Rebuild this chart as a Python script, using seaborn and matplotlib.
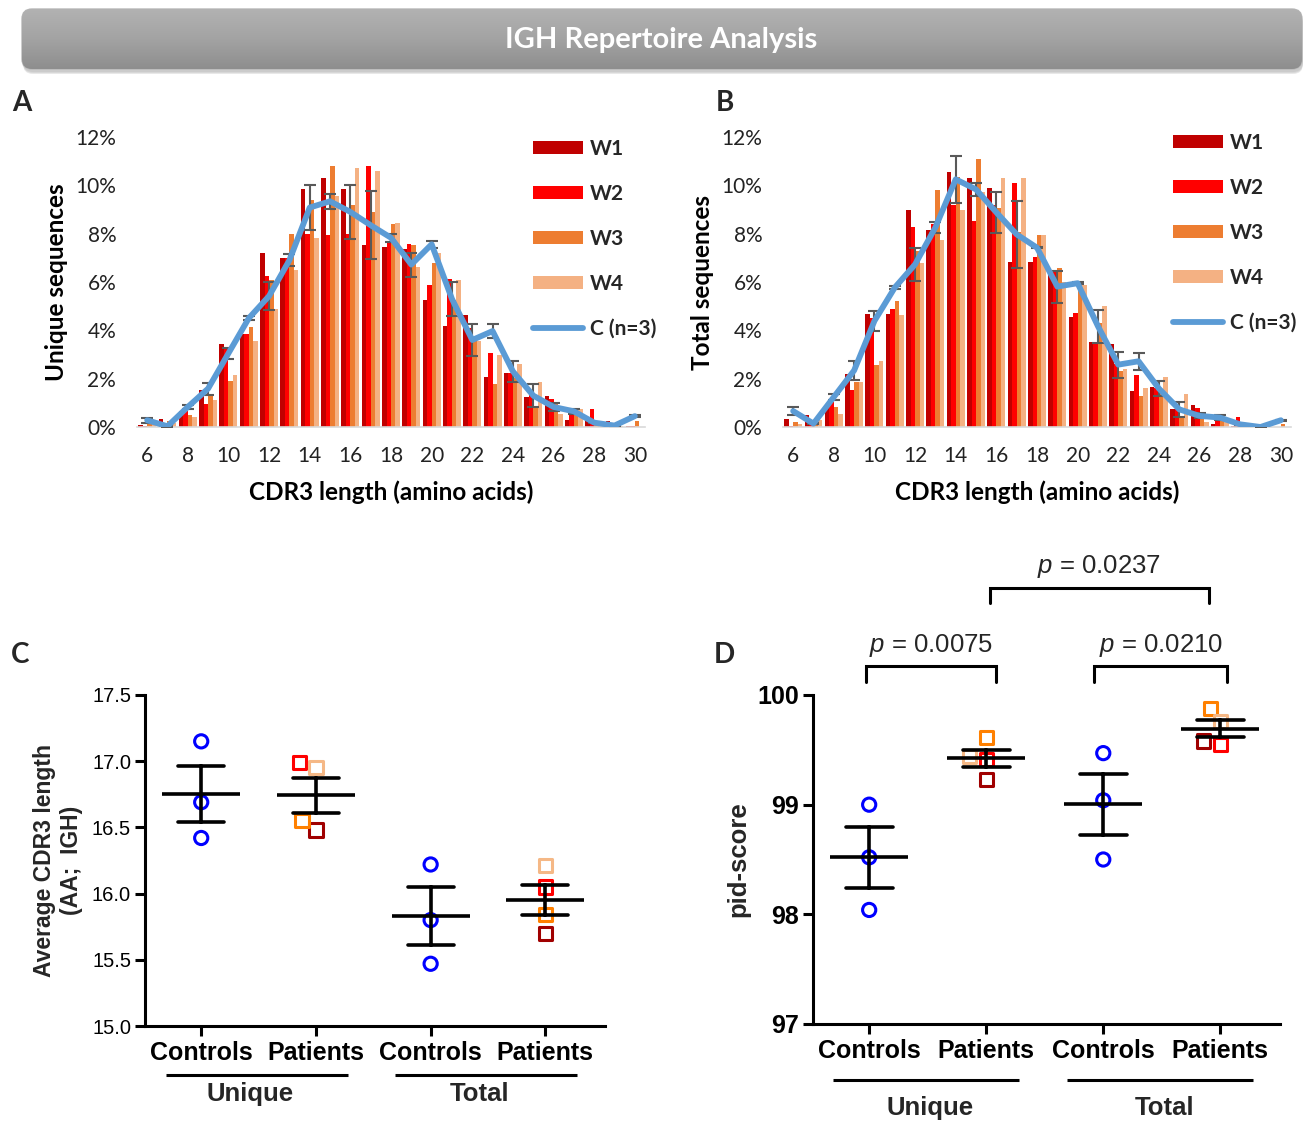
import numpy as np
import pandas as pd
import matplotlib
matplotlib.use("Agg")
import matplotlib.pyplot as plt
import matplotlib.transforms as mtransforms
from matplotlib.patches import Patch, FancyBboxPatch
from matplotlib.lines import Line2D
import seaborn as sns

# ---------------- data ----------------
lengths = list(range(6, 31))
weeks = ["W1", "W2", "W3", "W4"]

A_W1 = [0.10, 0.35, 0.65, 1.52, 3.42, 3.86, 7.20, 7.00, 9.83, 10.30, 9.86, 7.55, 7.45, 7.35, 5.26, 4.20, 4.63, 2.07, 2.22, 1.26, 1.28, 0.28, 0.43, 0.25, 0.03]
A_W2 = [0.05, 0.10, 0.65, 0.97, 3.30, 3.83, 6.23, 7.00, 7.97, 7.96, 8.00, 10.80, 7.65, 7.59, 5.86, 6.14, 4.10, 3.08, 2.22, 1.49, 1.14, 0.66, 0.76, 0.08, 0.05]
A_W3 = [0.25, 0.25, 0.48, 1.38, 1.90, 4.14, 6.07, 8.00, 9.38, 10.80, 9.20, 8.90, 8.40, 7.53, 6.77, 5.24, 3.70, 1.80, 2.04, 0.83, 0.99, 0.69, 0.25, 0.05, 0.23]
A_W4 = [0.20, 0.15, 0.41, 1.10, 2.17, 3.56, 4.90, 6.48, 7.82, 9.56, 10.70, 10.60, 8.45, 6.62, 7.20, 6.10, 3.56, 2.97, 2.62, 1.88, 0.52, 0.73, 0.10, 0.03, 0.02]
A_C = [0.28, 0.03, 0.83, 1.59, 3.05, 4.50, 5.42, 6.90, 9.08, 9.34, 8.90, 8.35, 7.83, 6.72, 7.56, 5.30, 3.60, 3.97, 2.30, 1.30, 0.83, 0.65, 0.18, 0.06, 0.45]
A_SEM = [0.10, 0.02, 0.10, 0.25, 0.22, 0.08, 0.59, 0.24, 0.93, 0.30, 1.13, 1.41, 0.17, 0.50, 0.15, 0.72, 0.66, 0.30, 0.45, 0.48, 0.15, 0.10, 0.03, 0.02, 0.03]

B_W1 = [0.32, 0.48, 0.94, 2.18, 4.66, 4.66, 8.98, 8.15, 10.57, 10.32, 9.88, 6.84, 6.84, 6.43, 4.57, 3.52, 3.45, 1.49, 1.66, 0.73, 0.90, 0.14, 0.05, 0.03, 0.02]
B_W2 = [0.04, 0.30, 1.05, 1.52, 4.50, 4.90, 8.29, 8.39, 9.19, 8.52, 9.20, 10.08, 7.03, 6.45, 4.73, 3.52, 2.59, 2.15, 1.62, 0.73, 0.77, 0.32, 0.43, 0.03, 0.02]
B_W3 = [0.20, 0.25, 0.83, 1.88, 2.57, 5.21, 7.28, 9.79, 10.36, 11.08, 9.05, 8.08, 7.94, 6.59, 5.97, 4.32, 2.32, 1.28, 1.56, 0.41, 0.59, 0.25, 0.08, 0.02, 0.14]
B_W4 = [0.14, 0.30, 0.52, 1.88, 2.73, 4.62, 6.80, 7.72, 8.98, 9.74, 10.29, 10.32, 7.94, 6.00, 5.88, 5.00, 2.40, 1.60, 2.07, 1.35, 0.22, 0.28, 0.05, 0.02, 0.02]
B_C = [0.66, 0.14, 1.24, 2.34, 4.39, 5.77, 6.73, 8.26, 10.25, 9.83, 8.88, 7.97, 7.42, 5.81, 5.95, 4.17, 2.58, 2.72, 1.59, 0.73, 0.46, 0.39, 0.11, 0.00, 0.28]
B_SEM = [0.17, 0.02, 0.11, 0.41, 0.41, 0.07, 0.69, 0.23, 0.97, 0.26, 0.84, 1.38, 0.03, 0.66, 0.03, 0.68, 0.54, 0.35, 0.30, 0.31, 0.10, 0.10, 0.03, 0.02, 0.03]

groups = ["Unique Controls", "Unique Patients", "Total Controls", "Total Patients"]
group_ticklabels = ["Controls", "Patients", "Controls", "Patients"]

C_U_ctrl = [17.15, 16.69, 16.42]
C_U_pat = [16.48, 16.99, 16.55, 16.95]   # W1..W4
C_T_ctrl = [16.22, 15.80, 15.47]
C_T_pat = [15.70, 16.05, 15.84, 16.21]

D_U_ctrl = [99.00, 98.52, 98.04]
D_U_pat = [99.23, 99.41, 99.61, 99.44]
D_T_ctrl = [99.47, 99.04, 98.50]
D_T_pat = [99.58, 99.55, 99.88, 99.76]

D_pvals = [("p = 0.0075", 0, 1), ("p = 0.0210", 2, 3), ("p = 0.0237", 1, 3)]

# ---------------- style ----------------
bar_colors = ["#C00000", "#FF0000", "#ED7D31", "#F4B183"]
sq_colors = ["#A00000", "#FF0000", "#FF8000", "#F5B886"]
line_color = "#5B9BD5"
ctrl_color = "#0000FF"

sns.set_theme(style="white")
plt.rcParams["font.family"] = ["Lato", "DejaVu Sans"]
plt.rcParams["mathtext.fontset"] = "custom"
plt.rcParams["mathtext.it"] = "Liberation Sans:italic"
plt.rcParams["mathtext.rm"] = "Liberation Sans"

W, H = 1308, 1121
fig = plt.figure(figsize=(W / 100, H / 100), dpi=100)


def frac(x0, y0, x1, y1):
    return [x0 / W, 1 - y1 / H, (x1 - x0) / W, (y1 - y0) / H]


# ---------------- banner ----------------
ov = fig.add_axes([0, 0, 1, 1], zorder=-5)
ov.set_xlim(0, W)
ov.set_ylim(H, 0)
ov.axis("off")
for k, a in enumerate([0.05, 0.07, 0.09]):
    sh = FancyBboxPatch((22 + 1, 10 + 2 + k), 1280, 60, boxstyle="round,pad=0,rounding_size=10",
                        fc="black", ec="none", alpha=a)
    ov.add_patch(sh)
banner = FancyBboxPatch((22, 9), 1280, 60, boxstyle="round,pad=0,rounding_size=10",
                        fc="#A6A6A6", ec="#B8B8B8", lw=1)
ov.add_patch(banner)
grad = np.linspace(0, 1, 100).reshape(-1, 1)
im = ov.imshow(grad, extent=[22, 1302, 69, 9], cmap=matplotlib.colors.LinearSegmentedColormap.from_list(
    "g", ["#B2B2B2", "#A3A3A3", "#8E8E8E"]), aspect="auto", zorder=2)
im.set_clip_path(banner)
ov.text(661, 40, "IGH Repertoire Analysis", color="white", fontsize=21, fontweight="bold",
        ha="center", va="center", zorder=3)

# panel letters
for letter, x, y in [("A", 22, 103), ("B", 725, 103), ("C", 20, 655), ("D", 724, 655)]:
    fig.text(x / W, 1 - y / H, letter, fontsize=20, fontweight="bold", ha="center", va="center")


# ---------------- distribution panels ----------------
def dist_panel(rect, wvals, cmean, csem, ylabel, leg_xy):
    ax = fig.add_axes(frac(*rect))
    rows = []
    for w, vals in zip(weeks, wvals):
        for L, v in zip(lengths, vals):
            rows.append({"length": L, "week": w, "value": v})
    df = pd.DataFrame(rows)
    sns.barplot(data=df, x="length", y="value", hue="week", hue_order=weeks, palette=bar_colors,
                native_scale=True, width=0.88, gap=0, saturation=1, errorbar=None, legend=False,
                ax=ax, edgecolor="none")
    ax.errorbar(lengths, cmean, yerr=csem, fmt="none", ecolor="#595959", elinewidth=1.5,
                capsize=4.5, capthick=1.5, zorder=3)
    sns.lineplot(x=lengths, y=cmean, color=line_color, linewidth=4.2, ax=ax, zorder=4)
    ax.set_xlim(5.5, 30.5)
    ax.set_ylim(0, 12)
    ax.set_yticks(range(0, 13, 2))
    ax.set_yticklabels([f"{v}%" for v in range(0, 13, 2)])
    ax.set_xticks(range(6, 31, 2))
    ax.set_xticklabels([str(v) for v in range(6, 31, 2)])
    for s in ["left", "top", "right"]:
        ax.spines[s].set_visible(False)
    ax.spines["bottom"].set_color("#D9D9D9")
    ax.spines["bottom"].set_linewidth(1.2)
    ax.tick_params(axis="both", length=0, labelsize=15, colors="#222222")
    ax.tick_params(axis="y", pad=15)
    ax.tick_params(axis="x", pad=14)
    ax.set_ylabel(ylabel, fontsize=17.5, fontweight="bold", color="black")
    ax.yaxis.set_label_coords(-0.135, 0.5)
    ax.set_xlabel("CDR3 length (amino acids)", fontsize=17.5, fontweight="bold", color="black")
    ax.xaxis.set_label_coords(0.5, -0.185)
    handles = [Patch(facecolor=c, edgecolor="none") for c in bar_colors]
    handles.append(Line2D([0], [0], color=line_color, lw=4.2))
    ax.legend(handles, weeks + ["C (n=3)"], loc="upper left",
              bbox_to_anchor=(leg_xy[0] / W, 1 - leg_xy[1] / H), bbox_transform=fig.transFigure,
              frameon=False, borderpad=0, borderaxespad=0, handlelength=2.4, handleheight=0.58,
              handletextpad=0.35, labelspacing=1.2, prop={"weight": "bold", "size": 15})
    return ax


dist_panel((137, 137, 645, 427), [A_W1, A_W2, A_W3, A_W4], A_C, A_SEM, "Unique sequences", (533, 139))
dist_panel((783, 137, 1291, 427), [B_W1, B_W2, B_W3, B_W4], B_C, B_SEM, "Total sequences", (1173, 133))


# ---------------- dot panels ----------------
def dot_panel(rect, xlim, ylim, yticks, yfmt, ybold, ctrl_u, pat_u, ctrl_t, pat_t, ylabel,
              line_y, text_y, ylabel_x, ylabsize, text_dx):
    ax = fig.add_axes(frac(*rect))
    ctrl = pd.DataFrame({"group": [groups[0]] * len(ctrl_u) + [groups[2]] * len(ctrl_t),
                         "value": list(ctrl_u) + list(ctrl_t)})
    pat = pd.DataFrame({"group": [groups[1]] * len(pat_u) + [groups[3]] * len(pat_t),
                        "value": list(pat_u) + list(pat_t),
                        "week": weeks + weeks})
    n0 = len(ax.collections)
    sns.swarmplot(data=ctrl, x="group", y="value", order=groups, color=ctrl_color, marker="o",
                  size=9.5, linewidth=2.2, ax=ax)
    sns.swarmplot(data=pat, x="group", y="value", order=groups, hue="week", hue_order=weeks,
                  palette=sq_colors, marker="s", size=9.5, linewidth=2.2, legend=False, ax=ax)
    for coll in ax.collections[n0:]:
        fc = coll.get_facecolors()
        coll.set_edgecolors(fc)
        coll.set_facecolors("none")
    allv = pd.concat([ctrl, pat[["group", "value"]]], ignore_index=True)
    sns.pointplot(data=allv, x="group", y="value", order=groups, errorbar="se", capsize=0.4,
                  color="black", linestyle="none", marker="_", markersize=56, markeredgewidth=2.6,
                  err_kws={"linewidth": 2.6}, ax=ax, zorder=5)
    ax.set_xlim(*xlim)
    ax.set_ylim(*ylim)
    ax.set_yticks(yticks)
    ax.set_yticklabels([yfmt.format(v) for v in yticks], fontsize=(18 if ybold else 14.5),
                       fontweight=("bold" if ybold else "normal"), family="Liberation Sans")
    ax.set_xticks(range(4))
    ax.set_xticklabels(group_ticklabels, fontsize=18, fontweight="bold", family="Liberation Sans")
    for s in ["top", "right"]:
        ax.spines[s].set_visible(False)
    for s in ["left", "bottom"]:
        ax.spines[s].set_color("black")
        ax.spines[s].set_linewidth(2.2)
    ax.tick_params(axis="both", direction="out", length=7, width=2.2, color="black",
                   labelcolor="black", left=True, bottom=True)
    ax.tick_params(axis="x", pad=4)
    ax.tick_params(axis="y", pad=(3 if ybold else 3))
    ax.set_xlabel("")
    ax.set_ylabel(ylabel, fontsize=ylabsize, fontweight="bold", family="Liberation Sans",
                  linespacing=1.2)
    ax.yaxis.set_label_coords(ylabel_x, 0.5)
    tr = mtransforms.blended_transform_factory(ax.transData, ax.transAxes)
    for (a, b, name) in [(0, 1, "Unique"), (2, 3, "Total")]:
        ax.plot([a - 0.31, b + 0.28], [line_y, line_y], color="black", lw=2.2, transform=tr,
                clip_on=False, solid_capstyle="butt")
        ax.text((a + b) / 2 + text_dx, text_y, name, transform=tr, ha="center", va="center",
                fontsize=18.5, fontweight="bold", family="Liberation Sans")
    return ax


dot_panel((145, 695, 605, 1026), (-0.49, 3.52), (15.0, 17.5), [15.0, 15.5, 16.0, 16.5, 17.0, 17.5],
          "{:.1f}", False, C_U_ctrl, C_U_pat, C_T_ctrl, C_T_pat,
          "Average CDR3 length\n(AA;  IGH)", -0.148, -0.205, -0.135, 16.5, -0.07)

axD = dot_panel((813, 695, 1280, 1024), (-0.48, 3.51), (97, 100), [97, 98, 99, 100],
                "{:d}", True, D_U_ctrl, D_U_pat, D_T_ctrl, D_T_pat,
                "pid-score", -0.17, -0.255, -0.135, 18.5, 0.02)

# significance brackets
bracket_geo = {0: (-0.03, 1.08, 100.12, 100.26, 100.45),
               1: (1.92, 3.06, 100.12, 100.26, 100.45),
               2: (1.03, 2.90, 100.84, 100.98, 101.17)}
for k, (label, a, b) in enumerate(D_pvals):
    x0, x1, yl, yt, ytxt = bracket_geo[k]
    axD.plot([x0, x0, x1, x1], [yl, yt, yt, yl], color="black", lw=2.2, clip_on=False,
             solid_joinstyle="miter")
    axD.text((x0 + x1) / 2, ytxt, "$p$" + label[1:], ha="center", va="center", fontsize=18.5,
             family="Liberation Sans")

fig.savefig("out.png", dpi=100)
